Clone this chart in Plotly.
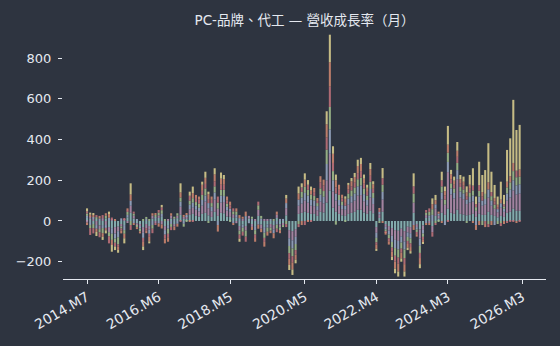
import pandas as pd
import plotly.graph_objects as go

start_month = "2014-07-01"

series_names = ["宏碁", "華碩", "廣達", "仁寶", "緯創", "英業達", "和碩"]
series_colors = ["#8fbcbb", "#9aa8c4", "#b48ead", "#a3be8c", "#d08770", "#c0727a", "#dccf8e"]

s1 = [15, 10, -15, 9, -22, -20, 12, -30, -35, -30,
      -28, -15, -20, 18, 40, 12, -12, -15, -30, -15,
      -25, 12, 10, 15, 20, -25, -20, 12, -15, 14,
      30, 10, 10, 30, 35, 25, 22, 35, 40, 28,
      20, 45, 25, 40, 38, 22, 20, 15, 16, -25,
      -18, -25, 12, -15, -25, 25, -18, -30, -18, -15,
      -20, 15, -16, -10, 28, -45, -50, -40, 35, 40,
      45, 40, 35, 35, 25, 45, 42, 90, 150, 65,
      45, 35, 28, 25, 35, 40, 45, 55, 55, 42,
      35, 50, 38, -30, 15, 45, -15, -25, -35, -45,
      -48, -38, -50, -28, -30, 40, -15, -42, -22, 15,
      15, -25, 25, 12, 40, 30, 60, 40, 35, 55,
      35, 32, 28, 30, 35, 20, 35, 30, 30, 45,
      30, 25, 18, 25, 20, 40, 45, 60, 50, 50]

s2 = [10, -20, 8, -18, 12, -15, -14, 16, -28, -25,
      -30, 13, -25, 12, 25, -10, 5, -12, -25, 10,
      -20, -20, 8, -12, 15, -22, -18, -15, 11, -14,
      25, -14, 8, 22, 25, 20, 18, 28, 30, 25,
      22, 35, -20, 35, 30, 18, 15, -10, 14, 14,
      -15, 24, -11, 11, -20, -18, 12, -28, -15, 10,
      -18, -18, 10, 10, 25, -38, -40, -35, 30, 30,
      38, 35, 30, 28, 20, 35, 32, 80, 120, 55,
      35, 28, 20, 20, 30, 32, 35, 45, 48, 35,
      28, 42, 30, -25, 12, 38, -12, -20, -30, -40,
      -42, -30, -40, -22, -25, -20, -12, -35, -18, -10,
      12, 30, 22, 10, 35, -20, 50, 30, 28, 45,
      30, 28, 22, 28, 30, -20, 30, 25, 28, 40,
      25, -20, 15, 22, 15, 35, 40, 50, 45, 45]

s3 = [-8, 12, 10, -20, -18, 14, -20, -25, 9, -32,
      -22, -12, 6, -10, 35, 14, -10, -10, -28, -20,
      -18, 14, -10, 12, -17, -20, 5, 14, -12, 12,
      40, 10, 12, 28, 30, 30, 25, 40, 55, 35,
      28, 60, 35, 50, 55, 30, 25, 18, -11, -22,
      11, -22, 13, -14, 5, 30, -20, 10, 5, -18,
      -22, 16, -15, -10, 35, -40, -45, -38, 40, 45,
      55, 50, 40, 38, 28, 50, 45, 110, 180, 80,
      55, 40, 30, 30, 45, 50, 55, 70, 72, 55,
      40, 65, 45, -28, 18, 60, -14, -22, -38, -48,
      -50, -38, -50, -28, -30, 50, -15, -45, -22, 14,
      -10, -30, 35, 14, 65, 50, 180, 90, 75, 150,
      80, 75, 55, 60, 60, 30, 55, 45, 50, 70,
      45, 35, 25, 40, 25, 60, 70, 90, 80, 85]

s4 = [12, -15, -20, 10, -15, -25, 14, -20, -30, -20,
      -35, -10, -18, 15, -20, 10, -8, -14, 5, 10,
      5, -18, 12, 14, 18, 5, -25, -14, 10, 12,
      20, -14, -5, 20, 22, 18, 20, 25, 35, -10,
      18, 30, 30, 28, 30, 15, -5, 14, 16, -20,
      -20, -30, 0, 10, -22, 22, 13, -25, -20, -14,
      5, -20, -14, -10, -15, -35, -38, -30, -15, 28,
      30, 28, 25, 22, 15, 30, 28, 70, 110, 45,
      -18, 25, 18, -5, 25, 28, 30, 35, 38, 28,
      22, 35, 25, -22, -10, 35, -10, -18, -28, -38,
      -40, -30, -42, -20, -25, 45, -12, -35, -16, 12,
      18, 28, -10, -5, 30, 25, 45, 25, 22, 35,
      22, 20, -10, 22, 25, 18, 28, -20, 25, -15,
      22, 20, -15, -10, 12, 30, 35, 45, 40, 38]

s5 = [-12, 9, 12, -16, 13, -18, 12, 18, -25, 5,
      -15, -14, -22, 10, 30, -10, -10, -10, -22, -12,
      -22, 12, 8, -16, -20, -23, -22, 12, -18, -14,
      25, 10, 8, -5, 25, 15, 15, 30, 30, 24,
      16, 35, -32, 30, 28, 20, 18, -10, 16, 15,
      10, 22, 0, -15, -18, -20, -17, -23, -19, -13,
      -25, 15, -15, 0, 22, -30, -35, -25, 30, -20,
      35, -5, 20, 20, 15, 30, 28, 65, 120, 45,
      35, 25, 18, 20, 22, 25, 28, 35, 35, 25,
      20, 33, 22, -20, 10, -10, -8, -16, -25, -35,
      -38, -28, -36, -18, -20, -24, -12, -30, -15, -10,
      -10, 25, 20, 10, -10, 22, 40, 25, 20, 30,
      20, 20, 18, 20, -10, -24, -20, 22, -15, 35,
      -20, 18, 12, 18, -15, 28, 30, 40, -10, 35]

s6 = [10, -34, -26, 10, -25, 15, -12, -35, 8, -18,
      -12, -10, 7, 7, -24, 10, 0, 0, -20, -13,
      -15, -22, -10, 13, 14, -20, -17, -16, 0, 0,
      -3, 0, 0, 24, -5, 20, 20, 20, 22, 20,
      16, 24, 30, 25, 25, 15, 17, 15, 0, -20,
      -19, -25, 0, 0, -17, 18, 0, -20, 0, 0,
      0, -17, 0, 0, -15, -28, -30, -22, -15, 22,
      -20, 25, -5, 19, 10, 30, 28, 60, 100, 40,
      30, 25, 15, 14, 20, 20, 23, 30, 32, 23,
      18, 30, 20, -12, 9, 32, -8, -15, -20, -28,
      -30, -20, -30, -15, -18, 35, -11, -25, -12, 13,
      17, -22, -10, 0, 30, 20, -5, 20, 18, 30,
      19, 18, 17, 18, 24, 15, 28, 20, -15, -15,
      20, 15, 10, -15, 10, -10, -5, -5, 32, -5]

s7 = [15, 10, 8, -20, 0, -15, -15, 12, -33, -18,
      -14, 0, -25, 0, 55, 0, 0, 0, -18, 0,
      -10, 0, 0, 0, 12, 0, 0, 0, 0, 0,
      45, 0, 0, 20, 32, 0, 0, 15, 30, 12,
      0, 30, 0, 30, 20, 0, 0, 0, 0, -15,
      0, 0, 0, 0, 0, 0, 0, 0, 0, 0,
      0, 0, 0, 0, 18, -25, -27, -18, 34, 20,
      31, 23, 19, 0, 0, 0, 0, 64, 135, 37,
      28, 0, 0, 12, 10, 16, 20, 31, 30, 20,
      15, 30, 15, -10, 0, 50, 0, 0, -16, -23,
      -25, -16, -25, -12, -12, 64, 0, -20, -5, 0,
      0, 28, 26, 0, 42, 22, 92, 21, 20, 43,
      20, 25, 30, 48, 85, 37, 115, 84, 117, 192,
      100, 64, 40, 88, 46, 156, 186, 310, 200, 219]

tick_dates = ["2014-07-01", "2016-06-01", "2018-05-01", "2020-05-01",
              "2022-04-01", "2024-03-01", "2026-03-01"]
tick_labels = ["2014.M7", "2016.M6", "2018.M5", "2020.M5",
               "2022.M4", "2024.M3", "2026.M3"]
y_ticks = [-200, 0, 200, 400, 600, 800]

# stacking order from zero outward
stack_order = [0, 2, 1, 3, 5, 4, 6]
all_series = [s1, s2, s3, s4, s5, s6, s7]
months = pd.date_range(start_month, periods=len(s1), freq="MS")

fig = go.Figure()
for i in stack_order:
    fig.add_trace(go.Bar(x=months, y=all_series[i], name=series_names[i],
                         marker=dict(color=series_colors[i], opacity=0.88,
                                     line=dict(width=0))))

fg = "#e5e9f0"
fig.update_layout(
    width=560, height=346,
    barmode="relative", bargap=0.28,
    paper_bgcolor="#2e3440", plot_bgcolor="#2e3440",
    margin=dict(l=63, r=14, t=29, b=67),
    showlegend=False,
    font=dict(family="DejaVu Sans, Noto Sans CJK TC", size=13, color=fg),
    title=dict(text="PC-品牌、代工 — 營收成長率（月）", x=0.5, xref="paper",
               xanchor="center", y=1 - 20 / 346, yref="container", yanchor="middle",
               font=dict(size=13.5, color=fg, family="DejaVu Sans, Noto Sans CJK TC")),
    xaxis=dict(type="date", range=["2013-11-08", "2026-10-17"],
               tickvals=tick_dates, ticktext=tick_labels, tickangle=-30,
               tickfont=dict(size=13.8),
               showline=True, linecolor=fg, linewidth=1,
               ticks="outside", ticklen=4, tickcolor=fg, tickwidth=1,
               showgrid=False, zeroline=False),
    yaxis=dict(range=[-285, 943], tickvals=y_ticks, ticklabelstandoff=4,
               showline=False, ticks="outside", ticklen=4, tickcolor=fg, tickwidth=1,
               showgrid=False, zeroline=False),
)

fig.write_html("out.html")
